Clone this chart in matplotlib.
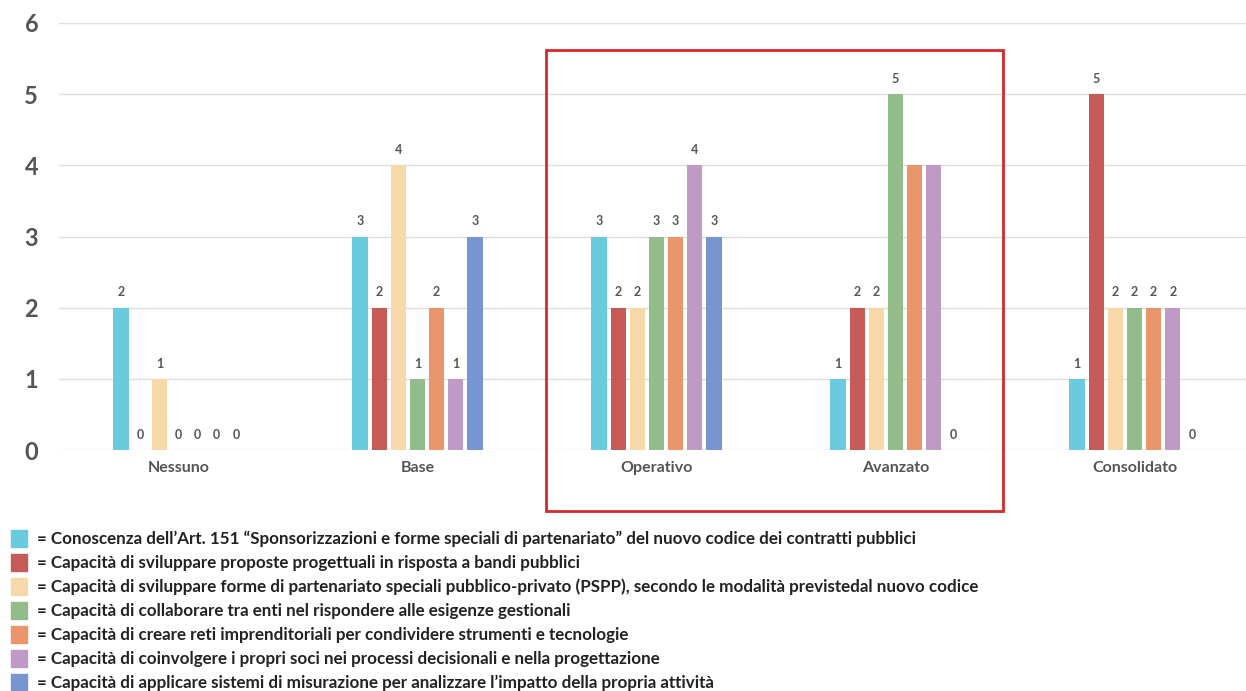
import matplotlib
matplotlib.use('Agg')
import matplotlib.pyplot as plt
from matplotlib.patches import Rectangle
import numpy as np

plt.rcParams['font.family'] = ['Lato', 'DejaVu Sans']

# livelli di competenza e valori per ciascuna capacità
livelli = ["Nessuno", "Base", "Operativo", "Avanzato", "Consolidato"]
art151 = [2, 3, 3, 1, 1]
bandi = [0, 2, 2, 2, 5]
pspp = [1, 4, 2, 2, 2]
enti = [0, 1, 3, 5, 2]
reti = [0, 2, 3, 4, 2]
soci = [0, 1, 4, 4, 2]
impatto = [0, 3, 3, 0, 0]

voci = [
    "= Conoscenza dell\u2019Art. 151 \u201cSponsorizzazioni e forme speciali di partenariato\u201d del nuovo codice dei contratti pubblici",
    "= Capacità di sviluppare proposte progettuali in risposta a bandi pubblici",
    "= Capacità di sviluppare forme di partenariato speciali pubblico-privato (PSPP), secondo le modalità previstedal nuovo codice",
    "= Capacità di collaborare tra enti nel rispondere alle esigenze gestionali",
    "= Capacità di creare reti imprenditoriali per condividere strumenti e tecnologie",
    "= Capacità di coinvolgere i propri soci nei processi decisionali e nella progettazione",
    "= Capacità di applicare sistemi di misurazione per analizzare l\u2019impatto della propria attività",
]
colori = ["#6ACBDE", "#C55A57", "#F7D8A9", "#92BC8A", "#EB956B", "#BF9AC6", "#7795D0"]

serie = [art151, bandi, pspp, enti, reti, soci, impatto]
# etichette nascoste (serie, livello)
senza_etichetta = [(4, 3), (5, 3)]

fig = plt.figure(figsize=(12.46, 6.91), dpi=100)
ax = fig.add_axes([59 / 1246, 1 - 450 / 691, 1195 / 1246, 427 / 691])

x = np.arange(len(livelli))
passo = 0.0802
largh = 0.063
grigio = "#555555"

for i, (vals, col) in enumerate(zip(serie, colori)):
    pos = x + (i - 3) * passo
    ax.bar(pos, vals, width=largh, color=col, zorder=3)
    for j, (p, v) in enumerate(zip(pos, vals)):
        if (i, j) in senza_etichetta:
            continue
        ax.annotate(str(v), (p, v), xytext=(0, 11), textcoords="offset points",
                    ha="center", va="center", fontsize=9, fontweight="bold",
                    color=grigio)

ax.set_xlim(-0.5, 4.5)
ax.set_ylim(0, 6)
ax.set_yticks(range(7))
ax.set_xticks(x)
ax.set_xticklabels(livelli, fontsize=11.5, color=grigio, fontweight="bold")
ax.tick_params(axis="x", length=0, pad=8)
ax.tick_params(axis="y", length=0, pad=15, labelsize=17, labelcolor=grigio)
for t in ax.get_yticklabels():
    t.set_fontweight("bold")
ax.grid(axis="y", color="#DDDDDD", linewidth=1, zorder=0)
for s in ax.spines.values():
    s.set_visible(False)

# riquadro rosso su Operativo e Avanzato
ax.add_patch(Rectangle((1.536, -0.857), 1.914, 6.477, fill=False,
                       edgecolor="#D42A2A", linewidth=2, clip_on=False, zorder=4))

# legenda a sinistra sotto il grafico
for k, (testo, col) in enumerate(zip(voci, colori)):
    yc = 539 + 24 * k
    fig.patches.append(Rectangle((11 / 1246, 1 - (yc + 8) / 691), 16 / 1246, 17 / 691,
                                 transform=fig.transFigure, color=col))
    fig.text(37 / 1246, 1 - yc / 691, testo, ha="left", va="center",
             fontsize=12.25, fontweight="bold", color="#222222")

fig.savefig("out.png", dpi=100)
